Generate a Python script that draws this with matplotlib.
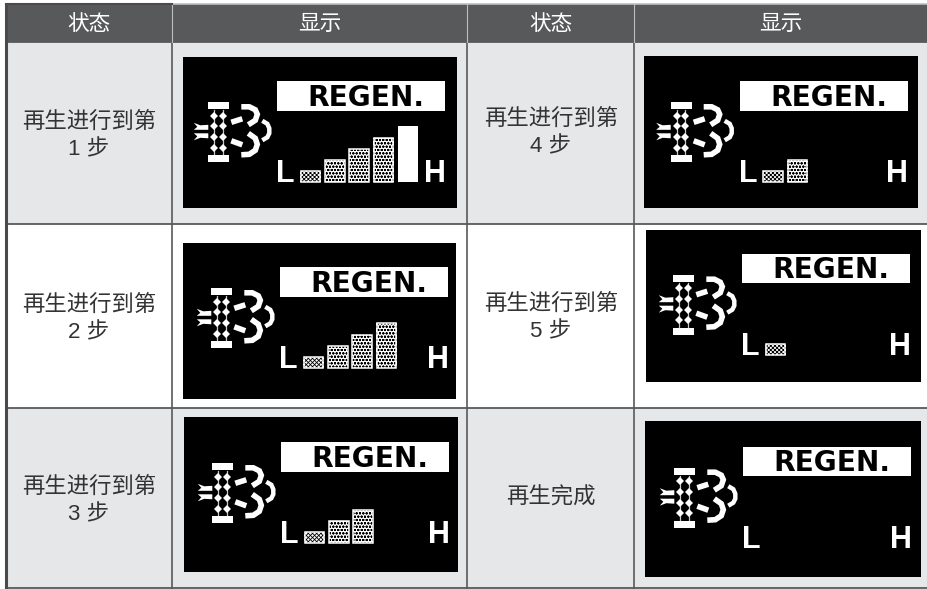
import matplotlib
matplotlib.use("Agg")
import matplotlib.pyplot as plt
from matplotlib.patches import Rectangle, Polygon

plt.rcParams['font.family'] = ['Liberation Sans', 'Noto Sans CJK SC', 'DejaVu Sans']
plt.rcParams['hatch.linewidth'] = 0.6

W, H = 927, 589

# table content
header_labels = ["状态", "显示", "状态", "显示"]
row_labels_left = ["再生进行到第\n1 步", "再生进行到第\n2 步", "再生进行到第\n3 步"]
row_labels_right = ["再生进行到第\n4 步", "再生进行到第\n5 步", "再生完成"]
title_text = "REGEN."
low_label = "L"
high_label = "H"

# how many level bars each display shows, same order as the cells
bar_counts = [5, 4, 3, 2, 1, 0]
# bar heights in level units
bar_levels = [1, 2, 3, 4, 5]

# table grid, pixels
col_x = [6, 172.5, 467.5, 634, 928]
row_y = [4, 41.5, 224, 407.5, 588]
row_fill = ["#e6e7e8", "white", "#e6e7e8"]
line_col = "#58595b"

# display rectangles: x0, y0, x1, y1, then REGEN box left/top inside it
panels = [
    (183, 57, 457, 208, 94.3, 24.3),
    (183, 243, 456, 399, 97.3, 24.3),
    (184, 417, 458, 572, 97.3, 25.3),
    (644, 56, 918, 208, 95.7, 25.3),
    (646, 230, 921, 382, 96.3, 23.7),
    (645, 421, 921, 577, 98.3, 25.7),
]

fig = plt.figure(figsize=(W / 100, H / 100), dpi=100)
ax = fig.add_axes([0, 0, 1, 1])
ax.set_xlim(0, W)
ax.set_ylim(H, 0)
ax.axis("off")

# fills
ax.add_patch(Rectangle((col_x[0], row_y[0]), col_x[-1] - col_x[0], row_y[1] - row_y[0], fc="#58595b", ec="none"))
for i in range(3):
    ax.add_patch(Rectangle((col_x[0], row_y[i + 1]), col_x[-1] - col_x[0], row_y[i + 2] - row_y[i + 1], fc=row_fill[i], ec="none"))

# grid lines
for y in row_y[1:]:
    ax.plot([col_x[0], W], [y, y], color=line_col, lw=1.3, solid_capstyle="butt")
for i, x in enumerate(col_x[:-1]):
    ax.plot([x, x], [row_y[0], row_y[-1] + 1], color=line_col if i else "#4a4a4c", lw=2.2 if i == 0 else 1.2, solid_capstyle="butt")
for x in col_x[1:-1]:
    ax.plot([x, x], [row_y[0], row_y[1]], color="#bcbec0", lw=0.8)
ax.plot([col_x[1], W], [row_y[0], row_y[0]], color="#bcbec0", lw=1.2)
ax.plot([col_x[0], col_x[1]], [row_y[0], row_y[0]], color="#4a4a4c", lw=1.5)

# text
header_x = [89, 320, 551, 781]
for i, lab in enumerate(header_labels):
    ax.text(header_x[i], 24, lab, color="white", fontsize=15.6, ha="center", va="center")

left_y = [136, 319, 501]
right_y = [133, 318, 498]
for i in range(3):
    ax.text(89, left_y[i], row_labels_left[i], color="#333333", fontsize=16.1, ha="center", va="center", linespacing=1.45)
    ax.text(551, right_y[i], row_labels_right[i], color="#333333", fontsize=16.1, ha="center", va="center", linespacing=1.45)

# icon shapes, pixels from the left end of the top bar
dot_cols = [6, 14.5]
dot_rows = [13.5, 24, 35, 45.5]
inlet_up = [(-14.5, 20.5), (-8, 23), (0, 22.5), (0, 27.5), (-14.5, 27.5), (-11, 24.5)]
inlet_dn = [(-14.5, 38), (-8, 35.5), (0, 36), (0, 31), (-14.5, 31), (-11, 34)]
outlet_up = ([23, 34], [20, 16.5])
outlet_dn = ([23, 34], [38.5, 42.5])
arc_up = ([33, 41, 47, 49, 47, 40], [4.5, 4.5, 7.5, 12, 18, 22.5])
arc_dn = ([40, 47, 49, 47, 41, 33], [31, 36, 42, 48, 52, 52.5])
arc_right = ([54, 59, 61, 61, 59, 54], [18.5, 21.5, 26, 31, 35, 38])


def draw_panel(p, n_bars):
    x0, y0, x1, y1, bx, by = p
    a = fig.add_axes([x0 / W, 1 - y1 / H, (x1 - x0) / W, (y1 - y0) / H])
    a.set_xlim(0, x1 - x0)
    a.set_ylim(y1 - y0, 0)
    a.set_facecolor("black")
    a.set_xticks([])
    a.set_yticks([])
    for s in a.spines.values():
        s.set_visible(False)

    # REGEN box
    a.add_patch(Rectangle((bx, by), 168, 29.5, fc="white", ec="none"))
    a.text(bx + 89, by + 24.7, title_text, color="black", fontsize=20.2, family="DejaVu Sans",
           weight="bold", ha="center", va="baseline")

    # L and H
    base = by + 101
    a.text(bx - 1, base, low_label, color="white", fontsize=22, family="Liberation Sans", weight="bold",
           ha="left", va="baseline")
    a.text(bx + 168.5, base, high_label, color="white", fontsize=22, family="Liberation Sans", weight="bold",
           ha="right", va="baseline")

    # level bars
    lev = bar_levels[:n_bars]
    bar_x = [bx + 33.3 + 24.3 * k for k in range(n_bars)]
    for k in range(n_bars):
        h = -lev[k] * 11.2
        if lev[k] == 5:
            a.bar(bar_x[k], h, width=20.5, bottom=base, color="white", linewidth=0)
        else:
            a.bar(bar_x[k], h, width=20.5, bottom=base, facecolor="white", edgecolor="black",
                  hatch="xxxxxxxx" if lev[k] == 1 else "ooooo", linewidth=0)
            a.bar(bar_x[k], h, width=19.5, bottom=base, facecolor="none", edgecolor="white", linewidth=1.1)

    # filter icon
    ix = bx - 69
    iy = by + 21
    a.add_patch(Rectangle((ix, iy), 21, 7, fc="white", ec="none"))
    a.add_patch(Rectangle((ix, iy + 53), 21, 7, fc="white", ec="none"))
    for cx in dot_cols:
        a.plot([ix + cx, ix + cx], [iy + 8, iy + 52], color="#c8c8c8", lw=0.9)
        for cy in dot_rows:
            a.plot(ix + cx, iy + cy, marker="D", ms=4, color="white", mew=0)
    for poly in (inlet_up, inlet_dn):
        a.add_patch(Polygon([(ix + q[0], iy + q[1]) for q in poly], closed=True, fc="white", ec="none"))
    for xs, ys, lw in (outlet_up + (4.0,), outlet_dn + (4.0,), arc_up + (4.0,), arc_dn + (4.0,), arc_right + (3.2,)):
        a.plot([ix + v for v in xs], [iy + v for v in ys], color="white", lw=lw,
               solid_joinstyle="miter", solid_capstyle="butt")


for p, n in zip(panels, bar_counts):
    draw_panel(p, n)

fig.savefig("out.png", dpi=100)
